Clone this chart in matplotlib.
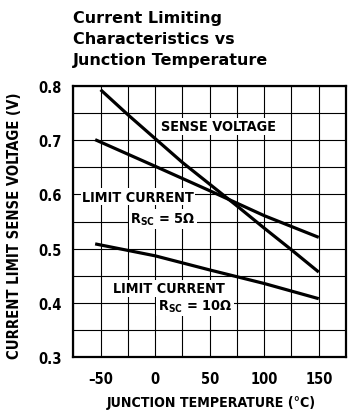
import numpy as np
import matplotlib
matplotlib.use("Agg")
import matplotlib.pyplot as plt

# Data
temp_sense = [-50, -25, 0, 25, 50, 75, 100, 125, 150]
v_sense = [0.793, 0.747, 0.703, 0.659, 0.619, 0.579, 0.538, 0.498, 0.457]

temp_5ohm = [-55, 0, 50, 100, 150]
v_5ohm = [0.701, 0.652, 0.607, 0.561, 0.521]

temp_10ohm = [-55, 0, 50, 100, 150]
v_10ohm = [0.509, 0.487, 0.461, 0.436, 0.408]

x_ticks = [-50, 0, 50, 100, 150]
y_ticks = [0.3, 0.4, 0.5, 0.6, 0.7, 0.8]

plt.rcParams["font.family"] = ["DejaVu Sans"]
plt.rcParams["font.stretch"] = "condensed"
plt.rcParams["font.weight"] = "bold"
plt.rcParams["mathtext.fontset"] = "custom"
plt.rcParams["mathtext.rm"] = "DejaVu Sans:bold:stretch=condensed"
plt.rcParams["mathtext.bf"] = "DejaVu Sans:bold:stretch=condensed"

fig = plt.figure(figsize=(3.56, 4.14), dpi=100)
ax = fig.add_axes([0.206, 0.1345, 0.766, 0.6555])

for t, v in [(temp_sense, v_sense), (temp_5ohm, v_5ohm), (temp_10ohm, v_10ohm)]:
    ax.plot(t, v, color="black", lw=2.3, solid_capstyle="butt", zorder=3)

ax.set_xlim(-75, 175)
ax.set_ylim(0.3, 0.8)

# grid every 25 C and every 0.05 V, labels only on the main ticks
xt = np.arange(-75, 176, 25)
yt = np.round(np.arange(0.3, 0.801, 0.05), 2)
ax.set_xticks(xt)
ax.set_xticklabels([("%d" % t).replace("-", "\u2013") if t in x_ticks else "" for t in xt])
ax.set_yticks(yt)
ax.set_yticklabels(["%.1f" % v if v in y_ticks else "" for v in yt])
ax.grid(True, color="black", lw=0.8, zorder=1)
ax.tick_params(length=0, labelsize=10.5, pad=10)
ax.tick_params(axis="y", pad=8)
for s in ax.spines.values():
    s.set_linewidth(1.6)

lbl = dict(fontsize=10.4, fontweight="bold", va="center", ha="left", zorder=4,
           bbox=dict(facecolor="white", edgecolor="none", pad=1.0))
ax.text(5, 0.7255, "SENSE VOLTAGE", **lbl)
ax.text(-67, 0.596, "LIMIT CURRENT", **lbl)
ax.text(-23, 0.5546, r"$\mathrm{R_{SC}}$ = 5Ω", **lbl)
ax.text(-39, 0.427, "LIMIT CURRENT", **lbl)
ax.text(2.5, 0.3947, r"$\mathrm{R_{SC}}$ = 10Ω", **lbl)

fig.text(211 / 356, 1 - 403 / 414, "JUNCTION TEMPERATURE (°C)", fontsize=10.2,
         fontweight="bold", ha="center", va="center")
fig.text(15 / 356, 1 - 226 / 414, "CURRENT LIMIT SENSE VOLTAGE (V)", fontsize=10.6,
         fontweight="bold", ha="center", va="center", rotation=90)

fig.text(73.3 / 356, 1 - 39.5 / 414, "Current Limiting\nCharacteristics vs\nJunction Temperature",
         family=["DejaVu Sans"], stretch="normal", fontweight="bold", fontsize=11.5,
         ha="left", va="center", linespacing=1.52)

fig.savefig("out.png", dpi=100)
